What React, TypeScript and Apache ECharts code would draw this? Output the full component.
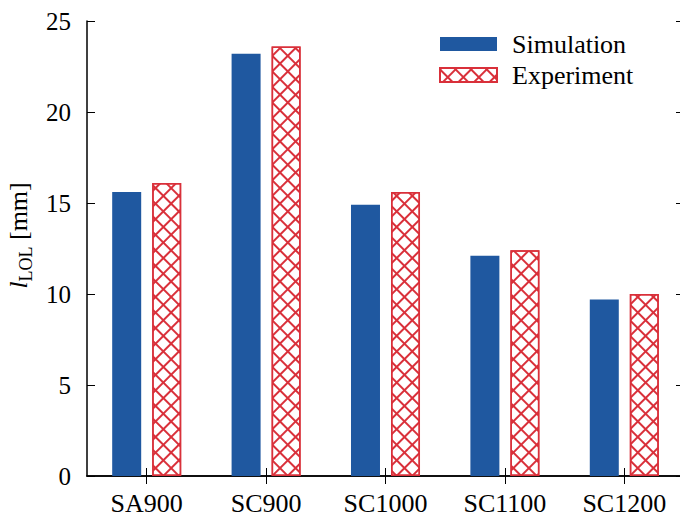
import React, { useEffect, useRef } from "react";
import * as echarts from "echarts";

const categories = ["SA900", "SC900", "SC1000", "SC1100", "SC1200"];
const simulation = [15.6, 23.2, 14.9, 12.1, 9.7];
const experiment = [16.1, 23.6, 15.6, 12.4, 10.0];
const yMin = 0;
const yMax = 25;
const yInterval = 5;

const FONT = "'Liberation Serif', 'Times New Roman', Times, serif";
const BLUE = "#1f58a0";
const RED = "#d9303a";

export default function App() {
  const ref = useRef<HTMLDivElement>(null);
  useEffect(() => {
    if (!ref.current) return;
    const chart = echarts.init(ref.current, null, { renderer: "svg" });
    const axisLine = { show: true, lineStyle: { color: "#000", width: 1.5 } };
    const tick = { show: true, inside: true, length: 8, lineStyle: { color: "#000", width: 1 } };
    chart.setOption({
      animation: false,
      backgroundColor: "#fff",
      textStyle: { fontFamily: FONT },
      grid: {
        left: 87,
        right: -4,
        top: 21,
        bottom: 41,
        containLabel: false,
        outerBoundsMode: "none",
      },
      legend: {
        orient: "vertical",
        left: 439,
        top: 31,
        padding: 0,
        itemWidth: 57,
        itemHeight: 14,
        itemGap: 5,
        icon: "rect",
        textStyle: { fontFamily: FONT, fontSize: 26, color: "#000", padding: [0, 0, 0, 10] },
        data: ["Simulation", "Experiment"],
      },
      xAxis: [
        {
          type: "category",
          data: categories,
          position: "bottom",
          axisLine,
          axisTick: { ...tick, alignWithLabel: true },
          axisLabel: { fontFamily: FONT, fontSize: 26, lineHeight: 26, color: "#000", margin: 14 },
          splitLine: { show: false },
        },
        {
          type: "category",
          data: categories,
          position: "top",
          axisLine,
          axisTick: { ...tick, alignWithLabel: true },
          axisLabel: { show: false },
          splitLine: { show: false },
        },
      ],
      yAxis: [
        {
          type: "value",
          min: yMin,
          max: yMax,
          interval: yInterval,
          position: "left",
          axisLine,
          axisTick: tick,
          axisLabel: { fontFamily: FONT, fontSize: 25, color: "#000", margin: 16 },
          splitLine: { show: false },
          name: "{i|l}{s|LOL}{n| [mm]}",
          nameLocation: "middle",
          nameRotate: 90,
          nameGap: 56,
          nameTextStyle: {
            padding: [0, 0, 0, 26],
            rich: {
              i: { fontFamily: FONT, fontSize: 26, fontStyle: "italic", color: "#000", verticalAlign: "bottom" },
              s: { fontFamily: FONT, fontSize: 18, color: "#000", verticalAlign: "bottom", padding: [0, 0, -4, 0] },
              n: { fontFamily: FONT, fontSize: 26, color: "#000", verticalAlign: "bottom" },
            },
          },
        },
        {
          type: "value",
          min: yMin,
          max: yMax,
          interval: yInterval,
          position: "right",
          axisLine,
          axisTick: tick,
          axisLabel: { show: false },
          splitLine: { show: false },
        },
      ],
      series: [
        {
          name: "Simulation",
          type: "bar",
          data: simulation,
          barWidth: 29,
          barGap: "38%",
          itemStyle: { color: BLUE },
        },
        {
          name: "Experiment",
          type: "bar",
          data: experiment,
          barWidth: 29,
          itemStyle: {
            color: "#fff",
            borderColor: RED,
            borderWidth: 1.5,
            decal: {
              symbol: "rect",
              symbolSize: 1,
              color: RED,
              backgroundColor: "#fff",
              dashArrayX: [[10, 0], [1.2, 8.8]],
              dashArrayY: [1.2, 0, 8.8, 0],
              rotation: Math.PI / 4,
            },
          },
        },
      ],
    });
    return () => chart.dispose();
  }, []);
  return (
    <div
      ref={ref}
      style={{ position: "absolute", left: 0, top: 0, width: 680, height: 517, background: "#fff" }}
    />
  );
}
